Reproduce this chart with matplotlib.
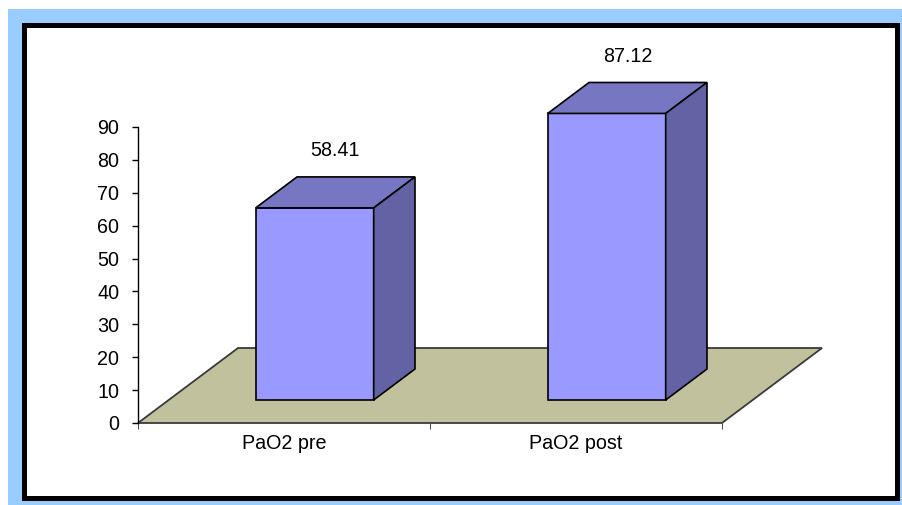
import matplotlib.pyplot as plt
from matplotlib.patches import Polygon, Rectangle

plt.rcParams["font.family"] = ["Liberation Sans", "DejaVu Sans"]

categories = ["PaO2 pre", "PaO2 post"]
values = [58.41, 87.12]
value_labels = ["58.41", "87.12"]
y_ticks = [0, 10, 20, 30, 40, 50, 60, 70, 80, 90]

# oblique projection of the depth axis, in data units
DX = 0.3425
DY = 22.8
D_FRONT = 0.307
D_BACK = 0.72
BAR_W = 0.404

FRONT = "#9999FF"
TOP = "#7676C2"
SIDE = "#6262A4"
FLOOR = "#C1C19E"
FS = 14.2

W, H = 903, 505
fig = plt.figure(figsize=(W / 100, H / 100), dpi=100)
fig.patch.set_facecolor("white")

# light blue frame and black-bordered white panel
fig.add_artist(Rectangle((8 / W, 0), 1, 1 - 9 / H, transform=fig.transFigure,
                         facecolor="#99CCFF", edgecolor="none", zorder=-3))
fig.add_artist(Rectangle((24.5 / W, 7.5 / H), 873 / W, 473 / H, transform=fig.transFigure,
                         facecolor="white", edgecolor="black", linewidth=3.6, zorder=-2))

ax = fig.add_axes([138 / W, (H - 423) / H, 584 / W, 296 / H])
ax.patch.set_alpha(0)
ax.set_xlim(0, len(categories))
ax.set_ylim(0, 90)

# floor
n = len(categories)
floor = Polygon([(0, 0), (n, 0), (n + DX, DY), (DX, DY)], closed=True,
                facecolor=FLOOR, edgecolor="#3a3a3a", linewidth=1.3, clip_on=False, zorder=1)
ax.add_patch(floor)

for i, v in enumerate(values):
    x0 = i + 0.5 + D_FRONT * DX - BAR_W / 2
    x1 = x0 + BAR_W
    y0 = D_FRONT * DY
    y1 = y0 + v
    ddx = (D_BACK - D_FRONT) * DX
    ddy = (D_BACK - D_FRONT) * DY
    kw = dict(closed=True, edgecolor="black", linewidth=1.2, clip_on=False, zorder=3)
    ax.add_patch(Polygon([(x0, y0), (x1, y0), (x1, y1), (x0, y1)], facecolor=FRONT, **kw))
    ax.add_patch(Polygon([(x0, y1), (x1, y1), (x1 + ddx, y1 + ddy), (x0 + ddx, y1 + ddy)],
                         facecolor=TOP, **kw))
    ax.add_patch(Polygon([(x1, y0), (x1 + ddx, y0 + ddy), (x1 + ddx, y1 + ddy), (x1, y1)],
                         facecolor=SIDE, **kw))
    ax.annotate(value_labels[i], (x0 + BAR_W / 2 + ddx / 2, y1 + ddy), xytext=(0, 19),
                textcoords="offset points", ha="center", va="center", fontsize=FS,
                annotation_clip=False)

for s in ["top", "right", "bottom"]:
    ax.spines[s].set_visible(False)
ax.spines["left"].set_linewidth(1.0)
ax.spines["left"].set_zorder(2)

ax.set_yticks(y_ticks)
ax.tick_params(axis="y", length=4.5, width=1, pad=9, labelsize=FS)

ax.set_xticks([i + 0.5 for i in range(n)])
ax.set_xticklabels(categories)
ax.set_xticks(range(n + 1), minor=True)
ax.tick_params(axis="x", which="major", length=0, pad=8, labelsize=FS)
ax.tick_params(axis="x", which="minor", length=4, width=0.8, color="#555555")

fig.savefig("out.png", dpi=100)
